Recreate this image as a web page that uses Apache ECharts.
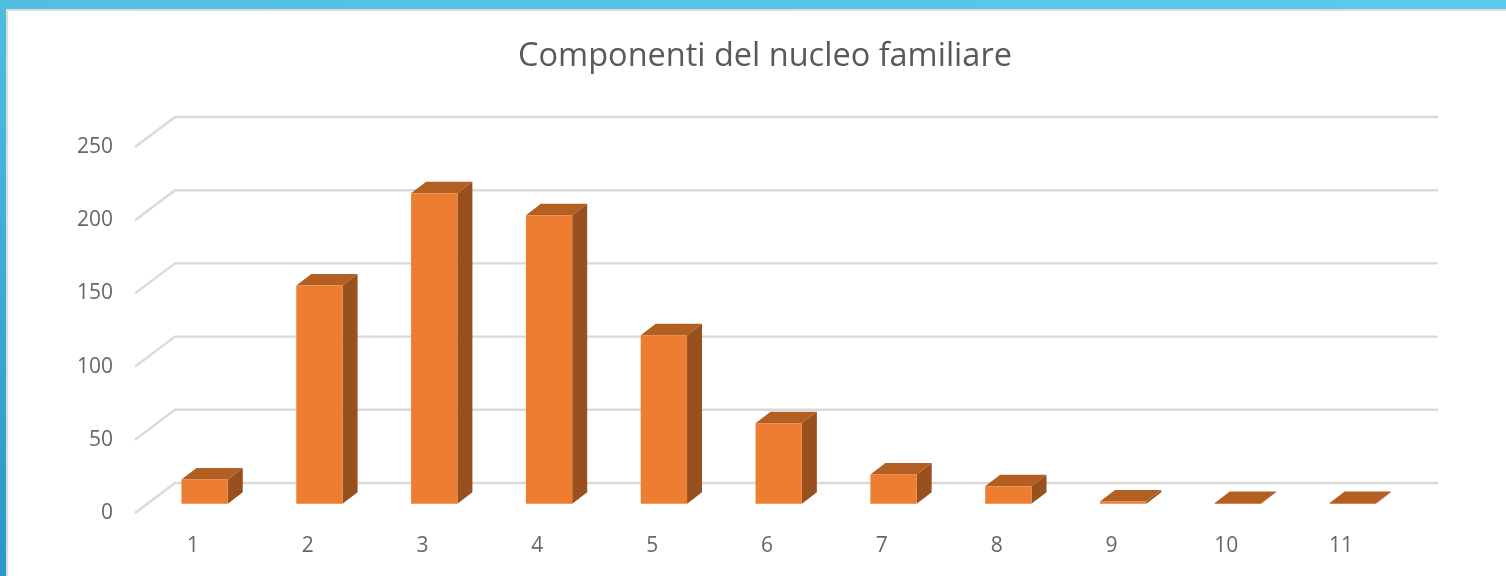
<!DOCTYPE html>
<html>
<head>
<meta charset="utf-8">
<style>html,body{margin:0;padding:0;background:#fff;overflow:hidden}#c{width:1506px;height:576px}</style>
<script src="https://cdn.jsdelivr.net/npm/echarts@6/dist/echarts.min.js"></script>
</head>
<body>
<div id="c"></div>
<script>
const titleText = 'Componenti del nucleo familiare';
const categories = ['1','2','3','4','5','6','7','8','9','10','11'];
const values = [16.5,149,212,197,115,55,20,12,1.5,0.5,0.5];
const yTicks = [0,50,100,150,200,250];

const chart = echarts.init(document.getElementById('c'), null, {renderer:'canvas'});
const FLOOR = {dx:40, dy:-30};
const BAR = {shiftX:12.2, shiftY:-9.3, width:46.3, dx:15, dy:-11.5};
const FONT = '"Open Sans", sans-serif';

function renderGrid(params, api){
  const c = params.coordSys;
  const y = api.coord([0, api.value(0)])[1];
  return {type:'polyline', silent:true,
    shape:{points:[[c.x,y],[c.x+FLOOR.dx,y+FLOOR.dy],[c.x+c.width+FLOOR.dx,y+FLOOR.dy]]},
    style:{stroke:'#dadada',lineWidth:2.4,fill:null}};
}
function renderBar(params, api){
  const idx = api.value(0), top = api.coord([idx, api.value(1)]), base = api.coord([idx, 0]);
  const xl = top[0]+BAR.shiftX-BAR.width/2, xr = xl+BAR.width;
  const yt = top[1]+BAR.shiftY, yb = base[1]+BAR.shiftY;
  const poly = (pts,fill)=>({type:'polygon',silent:true,shape:{points:pts},style:{fill:fill,stroke:null}});
  return {type:'group',children:[
    poly([[xr,yt],[xr+BAR.dx,yt+BAR.dy],[xr+BAR.dx,yb+BAR.dy],[xr,yb]],'#97501e'),
    poly([[xl,yt],[xl+BAR.dx,yt+BAR.dy],[xr+BAR.dx,yt+BAR.dy],[xr,yt]],'#b35e22'),
    {type:'rect',silent:true,shape:{x:xl,y:yt,width:BAR.width,height:Math.max(yb-yt,1)},style:{fill:'#ed7d31'}}
  ]};
}
chart.setOption({
  animation:false,
  backgroundColor:'#fff',
  graphic:[
    {type:'rect',shape:{x:0,y:0,width:6,height:576},style:{fill:new echarts.graphic.LinearGradient(0,0,0,1,[{offset:0,color:'#50bddf'},{offset:1,color:'#2a97c5'}])}},
    {type:'rect',shape:{x:0,y:0,width:1506,height:9},style:{fill:new echarts.graphic.LinearGradient(0,0,1,0,[{offset:0,color:'#52bfe0'},{offset:1,color:'#5ccbe9'}])}},
    {type:'rect',shape:{x:6,y:9,width:1500,height:2},style:{fill:'#dcdcdc'}},
    {type:'rect',shape:{x:6,y:9,width:2,height:567},style:{fill:'#dcdcdc'}}
  ],
  title:{text:titleText,left:760,top:35,textAlign:'center',
    textStyle:{fontFamily:FONT,fontSize:32.5,fontWeight:'normal',color:'#595959'}},
  grid:{left:135,top:147,width:1263,height:366,containLabel:false},
  xAxis:{type:'category',data:categories,boundaryGap:true,
    axisLine:{show:false},axisTick:{show:false},splitLine:{show:false},
    axisLabel:{margin:23,padding:[0,0,0,1],fontFamily:FONT,fontSize:21,color:'#666666',interval:0}},
  yAxis:{type:'value',min:0,max:250,interval:50,
    axisLine:{show:false},axisTick:{show:false},splitLine:{show:false},
    axisLabel:{margin:22,padding:[4,0,0,0],fontFamily:FONT,fontSize:21,color:'#666666'}},
  series:[
    {type:'custom',z:1,silent:true,clip:false,renderItem:renderGrid,encode:{y:0},data:yTicks.map(v=>[v])},
    {type:'custom',z:2,silent:true,clip:false,renderItem:renderBar,encode:{x:0,y:1},data:categories.map((c,i)=>[i,values[i]])}
  ]
});
</script>
</body>
</html>
